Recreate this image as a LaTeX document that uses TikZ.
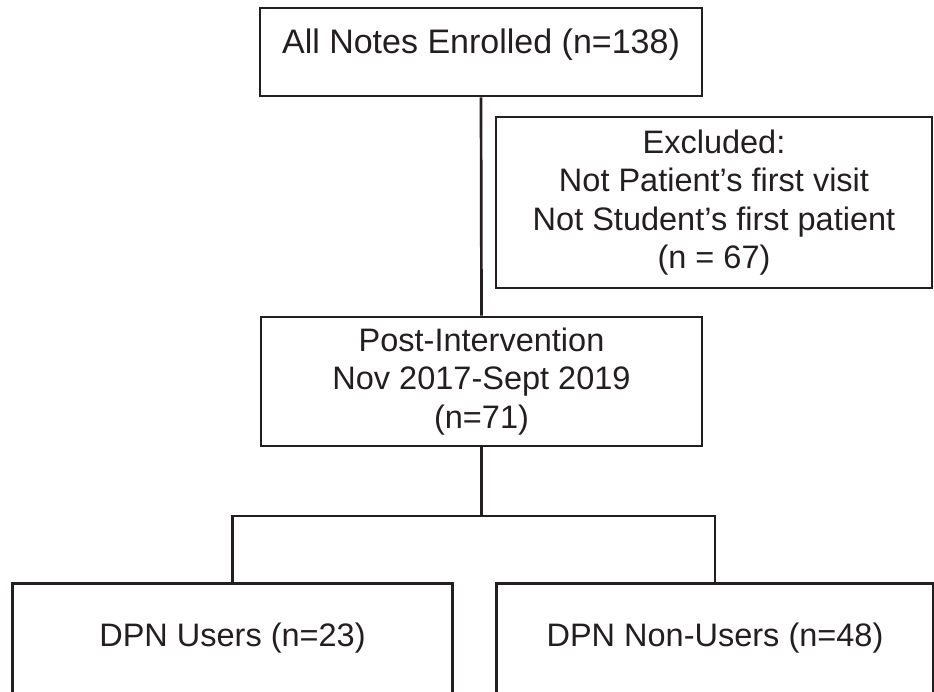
\documentclass[tikz,border=0pt]{standalone}
\usepackage{fontspec}
\setmainfont{Liberation Sans}
\definecolor{ink}{HTML}{231F20}
\tikzset{
  boxline/.style={draw=ink, line width=2.7pt},
  flowbox/.style={boxline, rectangle, align=center, inner sep=0pt, text=ink,
    font=\fontsize{32.5}{38.5}\selectfont},
  openbox/.style={rectangle, align=center, inner sep=0pt, text=ink,
    font=\fontsize{32.5}{38.5}\selectfont},
  link/.style={draw=ink, line width=2.7pt}
}
\begin{document}
\begin{tikzpicture}[x=1pt,y=-1pt]
\useasboundingbox (0,0) rectangle (934,691);
\clip (0,0) rectangle (934,691);
\fill[white] (0,0) rectangle (934,691);

\node[flowbox, minimum width=442pt, minimum height=88pt,
      text height=20pt, text depth=18pt,
      font=\fontsize{34}{38.5}\selectfont] (all) at (481,52)
  {All Notes Enrolled (n=138)};

\node[flowbox, minimum width=436pt, minimum height=171pt] (excl) at (714,202.5)
  {Excluded:\\Not Patient’s first visit\\Not Student’s first patient\\(n = 67)};

\node[flowbox, minimum width=441pt, minimum height=129pt] (post) at (481.5,381.5)
  {Post-Intervention\\Nov 2017-Sept 2019\\(n=71)};

\node[openbox, minimum width=439pt, minimum height=109pt] (users) at (232.5,638.5)
  {DPN Users (n=23)};
\node[openbox, minimum width=436pt, minimum height=109pt] (nonusers) at (715,638.5)
  {DPN Non-Users (n=48)};

% open-bottomed outlines of the two lower boxes (cut by the picture's edge)
\draw[boxline] (users.north west) ++(0,140) |- (users.north east) -- ++(0,140);
\draw[boxline] (nonusers.north west) ++(0,140) |- (nonusers.north east) -- ++(0,140);

\coordinate (split) at (481.5,516);
\draw[link] (all.south) -- (post.north);
\draw[link] (post.south) -- (split);
\draw[link] (users.north) |- (split) -| (nonusers.north);
\end{tikzpicture}
\end{document}
